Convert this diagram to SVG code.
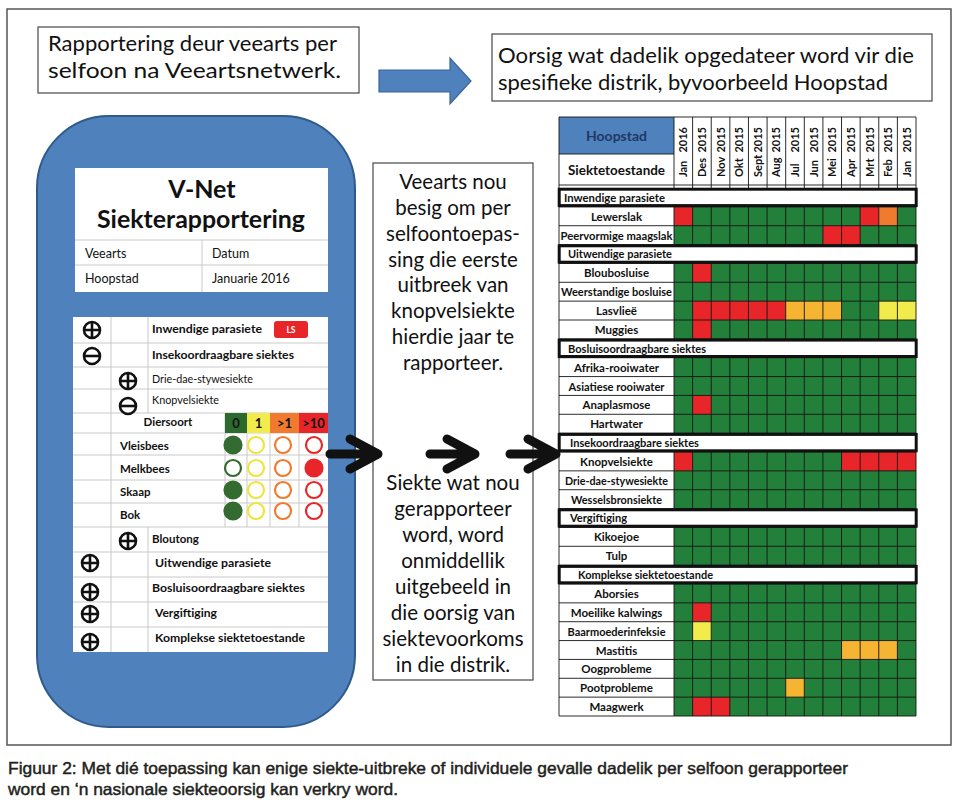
<svg xmlns="http://www.w3.org/2000/svg" width="960" height="810" viewBox="0 0 960 810">
<style>
text{font-family:Lato,"Open Sans","Liberation Sans",sans-serif;fill:#111}
.box{fill:#fff;stroke:#555;stroke-width:1.3}
.big{font-size:22px}
.mid{font-size:20.5px;text-anchor:middle}
.b{font-weight:bold}
.ph{font-size:12.5px}
.tb{font-size:11.5px;font-weight:bold}
.gl{font-size:11.5px;font-weight:bold;text-anchor:middle}
.sl{font-size:12px;font-weight:bold}
.mo{font-size:11px;font-weight:bold}
.ic{fill:none;stroke:#111;stroke-width:2.6}
.tl{stroke:#c9c9c9;stroke-width:1;fill:none}
.gr{stroke:#141414;stroke-width:0.9;fill:none}
.sec{fill:#fff;stroke:#111;stroke-width:3}
.R{fill:#e8262a}.A{fill:#f5b431}.Y{fill:#f1ec4b}.O{fill:#f07a2e}.G{fill:#23803a}
.ba{stroke:#111;stroke-width:9;fill:none;stroke-linecap:round;stroke-linejoin:round}
.cap{font-family:"Liberation Sans",Arial,sans-serif;font-size:16.5px;fill:#231f20;stroke:#231f20;stroke-width:0.45}
</style>
<rect width="960" height="810" fill="#fff"/>
<rect x="7" y="9" width="944" height="736" fill="none" stroke="#555" stroke-width="1.5"/>

<g id="intro">
<rect class="box" x="38" y="27" width="321" height="66"/>
<text class="big" x="48" y="51" textLength="289" lengthAdjust="spacingAndGlyphs">Rapportering deur veearts per</text>
<text class="big" x="48" y="78" textLength="293" lengthAdjust="spacingAndGlyphs">selfoon na Veeartsnetwerk.</text>
</g>

<g id="blue-arrow">
<polygon points="379,70 450,70 450,58 471,81 450,104 450,92 379,92" fill="#4f81bd" stroke="#3a6598" stroke-width="1.2"/>
</g>

<g id="overview-title">
<rect class="box" x="492" y="34" width="440" height="67"/>
<text class="big" x="498" y="63" textLength="416" lengthAdjust="spacingAndGlyphs">Oorsig wat dadelik opgedateer word vir die</text>
<text class="big" x="498" y="90" textLength="390" lengthAdjust="spacingAndGlyphs">spesifieke distrik, byvoorbeeld Hoopstad</text>
</g>

<g id="phone">
<rect x="37" y="116" width="318" height="611" rx="72" ry="72" fill="#4f81bd" stroke="#2f5a8c" stroke-width="2"/>
<rect x="75" y="168" width="253" height="124" fill="#fff"/>
<path class="tl" d="M75 240H328M75 265H328M202 240V292"/>
<text class="b" x="202" y="198" text-anchor="middle" font-size="25">V-Net</text>
<text class="b" x="201" y="228" text-anchor="middle" font-size="25" textLength="208" lengthAdjust="spacingAndGlyphs">Siekterapportering</text>
<text class="ph" x="85" y="258">Veearts</text>
<text class="ph" x="212" y="258">Datum</text>
<text class="ph" x="85" y="283">Hoopstad</text>
<text class="ph" x="212" y="283">Januarie 2016</text>

<rect x="73" y="317" width="255" height="335" fill="#fff"/>
<path class="tl" d="M73 343H328M73 367H328M73 389H328M73 413H328M73 433H328M73 455H328M73 480H328M73 503H328M73 527H328M73 552H328M73 577H328M73 602H328M73 627H328M111 317V652M148 317V413M148 527V652M225 413V527M247 433V527M270 433V527M299 433V527"/>
<rect x="225" y="413" width="22" height="20" fill="#2d6a2e"/>
<rect x="247" y="413" width="23" height="20" fill="#f1ec4b"/>
<rect x="270" y="413" width="29" height="20" fill="#f07a2e"/>
<rect x="299" y="413" width="29" height="20" fill="#e8262a"/>
<text class="b" x="236" y="428" text-anchor="middle" font-size="13">0</text>
<text class="b" x="258.5" y="428" text-anchor="middle" font-size="13">1</text>
<text class="b" x="284.5" y="428" text-anchor="middle" font-size="13">&gt;1</text>
<text class="b" x="313.5" y="428" text-anchor="middle" font-size="13">&gt;10</text>

<rect x="274" y="321" width="34" height="17" rx="3" fill="#e8262a"/>
<text x="291" y="333" text-anchor="middle" font-size="8.5" font-weight="bold" style="fill:#fff">LS</text>

<text class="tb" x="152" y="333" textLength="110" lengthAdjust="spacingAndGlyphs">Inwendige parasiete</text>
<text class="tb" x="152" y="359" textLength="142" lengthAdjust="spacingAndGlyphs">Insekoordraagbare siektes</text>
<text x="152" y="383" font-size="11" textLength="101" lengthAdjust="spacingAndGlyphs">Drie-dae-stywesiekte</text>
<text x="152" y="404" font-size="11" textLength="67" lengthAdjust="spacingAndGlyphs">Knopvelsiekte</text>
<text class="tb" x="168" y="426" text-anchor="middle" font-size="12.5">Diersoort</text>
<text class="tb" x="120" y="450" font-size="11">Vleisbees</text>
<text class="tb" x="120" y="473" font-size="11">Melkbees</text>
<text class="tb" x="120" y="496" font-size="11">Skaap</text>
<text class="tb" x="120" y="519" font-size="11">Bok</text>
<text class="tb" x="152" y="543" font-size="10.5">Bloutong</text>
<text class="tb" x="155" y="567" textLength="116" lengthAdjust="spacingAndGlyphs">Uitwendige parasiete</text>
<text class="tb" x="152" y="592" textLength="153" lengthAdjust="spacingAndGlyphs">Bosluisoordraagbare siektes</text>
<text class="tb" x="155" y="617" textLength="62" lengthAdjust="spacingAndGlyphs">Vergiftiging</text>
<text class="tb" x="155" y="642" textLength="150" lengthAdjust="spacingAndGlyphs">Komplekse siektetoestande</text>

<g class="ic">
<circle cx="92" cy="330" r="8"/><path d="M84 330H100M92 322V338"/>
<circle cx="92" cy="356" r="8"/><path d="M84 356H100"/>
<circle cx="128" cy="381" r="8"/><path d="M120 381H136M128 373V389"/>
<circle cx="128" cy="406" r="8"/><path d="M120 406H136"/>
<circle cx="128" cy="541" r="8"/><path d="M120 541H136M128 533V549"/>
<circle cx="90" cy="563" r="8"/><path d="M82 563H98M90 555V571"/>
<circle cx="90" cy="592" r="8"/><path d="M82 592H98M90 584V600"/>
<circle cx="90" cy="614" r="8"/><path d="M82 614H98M90 606V622"/>
<circle cx="90" cy="642" r="8"/><path d="M82 642H98M90 634V650"/>
</g>

<g stroke-width="2.2">
<circle cx="233" cy="445" r="8.5" fill="#336b31" stroke="#336b31"/>
<circle cx="256" cy="445" r="8" fill="none" stroke="#eee43c"/>
<circle cx="283" cy="445" r="8" fill="none" stroke="#f07a2e"/>
<circle cx="314" cy="445" r="8" fill="none" stroke="#e8262a"/>
<circle cx="233" cy="468" r="8" fill="none" stroke="#336b31"/>
<circle cx="256" cy="468" r="8" fill="none" stroke="#eee43c"/>
<circle cx="283" cy="468" r="8" fill="none" stroke="#f07a2e"/>
<circle cx="314" cy="468" r="8.5" fill="#e8262a" stroke="#e8262a"/>
<circle cx="233" cy="490" r="8.5" fill="#336b31" stroke="#336b31"/>
<circle cx="256" cy="490" r="8" fill="none" stroke="#eee43c"/>
<circle cx="283" cy="490" r="8" fill="none" stroke="#f07a2e"/>
<circle cx="314" cy="490" r="8" fill="none" stroke="#e8262a"/>
<circle cx="233" cy="511" r="8.5" fill="#336b31" stroke="#336b31"/>
<circle cx="256" cy="511" r="8" fill="none" stroke="#eee43c"/>
<circle cx="283" cy="511" r="8" fill="none" stroke="#f07a2e"/>
<circle cx="314" cy="511" r="8" fill="none" stroke="#e8262a"/>
</g>
</g>

<g id="explanation">
<rect class="box" x="373" y="163" width="160" height="517"/>
<text class="mid" x="453" y="189">Veearts nou</text>
<text class="mid" x="453" y="215">besig om per</text>
<text class="mid" x="453" y="241">selfoontoepas-</text>
<text class="mid" x="453" y="267">sing die eerste</text>
<text class="mid" x="453" y="292">uitbreek van</text>
<text class="mid" x="453" y="318">knopvelsiekte</text>
<text class="mid" x="453" y="344">hierdie jaar te</text>
<text class="mid" x="453" y="370">rapporteer.</text>
<text class="mid" x="453" y="490">Siekte wat nou</text>
<text class="mid" x="453" y="516">gerapporteer</text>
<text class="mid" x="453" y="542">word, word</text>
<text class="mid" x="453" y="568">onmiddellik</text>
<text class="mid" x="453" y="594">uitgebeeld in</text>
<text class="mid" x="453" y="620">die oorsig van</text>
<text class="mid" x="453" y="646">siektevoorkoms</text>
<text class="mid" x="453" y="672">in die distrik.</text>
</g>

<g id="overview-grid">
<rect x="559" y="117" width="115" height="37" fill="#4f81bd"/>
<rect x="559" y="154" width="115" height="31" fill="#fff"/>
<rect x="559" y="188" width="115" height="528" fill="#fff"/>
<rect x="674" y="188" width="242" height="528" class="G"/>
<text class="b" x="616.5" y="141" text-anchor="middle" font-size="14" style="fill:#1f3864">Hoopstad</text>
<text class="b" x="616.5" y="175" text-anchor="middle" font-size="14" textLength="97" lengthAdjust="spacingAndGlyphs">Siektetoestande</text>

<g class="mo">
<text transform="translate(687.3,177) rotate(-90)">Jan</text><text transform="translate(687.3,127) rotate(-90)" text-anchor="end">2016</text>
<text transform="translate(705.9,177) rotate(-90)">Des</text><text transform="translate(705.9,127) rotate(-90)" text-anchor="end">2015</text>
<text transform="translate(724.5,177) rotate(-90)">Nov</text><text transform="translate(724.5,127) rotate(-90)" text-anchor="end">2015</text>
<text transform="translate(743.1,177) rotate(-90)">Okt</text><text transform="translate(743.1,127) rotate(-90)" text-anchor="end">2015</text>
<text transform="translate(761.8,177) rotate(-90)">Sept</text><text transform="translate(761.8,127) rotate(-90)" text-anchor="end">2015</text>
<text transform="translate(780.4,177) rotate(-90)">Aug</text><text transform="translate(780.4,127) rotate(-90)" text-anchor="end">2015</text>
<text transform="translate(799,177) rotate(-90)">Jul</text><text transform="translate(799,127) rotate(-90)" text-anchor="end">2015</text>
<text transform="translate(817.6,177) rotate(-90)">Jun</text><text transform="translate(817.6,127) rotate(-90)" text-anchor="end">2015</text>
<text transform="translate(836.2,177) rotate(-90)">Mei</text><text transform="translate(836.2,127) rotate(-90)" text-anchor="end">2015</text>
<text transform="translate(854.8,177) rotate(-90)">Apr</text><text transform="translate(854.8,127) rotate(-90)" text-anchor="end">2015</text>
<text transform="translate(873.5,177) rotate(-90)">Mrt</text><text transform="translate(873.5,127) rotate(-90)" text-anchor="end">2015</text>
<text transform="translate(892.1,177) rotate(-90)">Feb</text><text transform="translate(892.1,127) rotate(-90)" text-anchor="end">2015</text>
<text transform="translate(910.7,177) rotate(-90)">Jan</text><text transform="translate(910.7,127) rotate(-90)" text-anchor="end">2015</text>
</g>

<g id="cells">
<rect class="R" x="674" y="206.86" width="18.7" height="18.9"/>
<rect class="R" x="860.15" y="206.86" width="18.7" height="18.9"/>
<rect class="O" x="878.77" y="206.86" width="18.7" height="18.9"/>
<rect class="R" x="822.92" y="225.71" width="37.3" height="18.9"/>
<rect class="R" x="692.62" y="263.43" width="18.7" height="18.9"/>
<rect class="R" x="692.62" y="301.14" width="93.1" height="18.9"/>
<rect class="A" x="785.69" y="301.14" width="55.9" height="18.9"/>
<rect class="Y" x="878.77" y="301.14" width="37.3" height="18.9"/>
<rect class="R" x="692.62" y="320" width="18.7" height="18.9"/>
<rect class="R" x="692.62" y="395.43" width="18.7" height="18.9"/>
<rect class="R" x="674" y="452" width="18.7" height="18.9"/>
<rect class="R" x="841.54" y="452" width="74.5" height="18.9"/>
<rect class="R" x="692.62" y="602.86" width="18.7" height="18.9"/>
<rect class="Y" x="692.62" y="621.71" width="18.7" height="18.9"/>
<rect class="A" x="841.54" y="640.57" width="55.9" height="18.9"/>
<rect class="A" x="785.69" y="678.29" width="18.7" height="18.9"/>
<rect class="R" x="692.62" y="697.14" width="37.3" height="18.9"/>
</g>

<path class="gr" d="M559 117H916M559 154H674M559 185H916M559 117V716M674 117V716M692.62 117V716M711.23 117V716M729.85 117V716M748.46 117V716M767.08 117V716M785.69 117V716M804.31 117V716M822.92 117V716M841.54 117V716M860.15 117V716M878.77 117V716M897.38 117V716M916 117V716M559 206.86H916M559 225.71H916M559 244.57H916M559 263.43H916M559 282.29H916M559 301.14H916M559 320H916M559 338.86H916M559 357.71H916M559 376.57H916M559 395.43H916M559 414.29H916M559 433.14H916M559 452H916M559 470.86H916M559 489.71H916M559 508.57H916M559 527.43H916M559 546.29H916M559 565.14H916M559 584H916M559 602.86H916M559 621.71H916M559 640.57H916M559 659.43H916M559 678.29H916M559 697.14H916M559 716H916"/>

<rect class="sec" x="559.2" y="189.2" width="357" height="16.4"/>
<rect class="sec" x="559.2" y="245.8" width="357" height="16.4"/>
<rect class="sec" x="559.2" y="340.1" width="357" height="16.4"/>
<rect class="sec" x="559.2" y="434.4" width="357" height="16.4"/>
<rect class="sec" x="559.2" y="509.8" width="357" height="16.4"/>
<rect class="sec" x="559.2" y="566.4" width="357" height="16.4"/>
<text class="sl" x="564" y="201.8" textLength="101" lengthAdjust="spacingAndGlyphs">Inwendige parasiete</text>
<text class="sl" x="568" y="258.4" textLength="104" lengthAdjust="spacingAndGlyphs">Uitwendige parasiete</text>
<text class="sl" x="568" y="352.7" textLength="138" lengthAdjust="spacingAndGlyphs">Bosluisoordraagbare siektes</text>
<text class="sl" x="570" y="447" textLength="129" lengthAdjust="spacingAndGlyphs">Insekoordraagbare siektes</text>
<text class="sl" x="570" y="522.4" textLength="57" lengthAdjust="spacingAndGlyphs">Vergiftiging</text>
<text class="sl" x="578" y="579" textLength="135" lengthAdjust="spacingAndGlyphs">Komplekse siektetoestande</text>

<g class="gl">
<text x="616.5" y="220.8">Lewerslak</text>
<text x="616.5" y="239.7" textLength="112" lengthAdjust="spacingAndGlyphs">Peervormige maagslak</text>
<text x="616.5" y="277.4">Bloubosluise</text>
<text x="616.5" y="296.2" textLength="111" lengthAdjust="spacingAndGlyphs">Weerstandige bosluise</text>
<text x="616.5" y="315.1">Lasvlieë</text>
<text x="616.5" y="334">Muggies</text>
<text x="616.5" y="371.7">Afrika-rooiwater</text>
<text x="616.5" y="390.5" textLength="96" lengthAdjust="spacingAndGlyphs">Asiatiese rooiwater</text>
<text x="616.5" y="409.4">Anaplasmose</text>
<text x="616.5" y="428.2">Hartwater</text>
<text x="616.5" y="466">Knopvelsiekte</text>
<text x="616.5" y="484.8" textLength="103" lengthAdjust="spacingAndGlyphs">Drie-dae-stywesiekte</text>
<text x="616.5" y="503.7" textLength="91" lengthAdjust="spacingAndGlyphs">Wesselsbronsiekte</text>
<text x="616.5" y="541.4">Kikoejoe</text>
<text x="616.5" y="560.2">Tulp</text>
<text x="616.5" y="598">Aborsies</text>
<text x="616.5" y="616.8">Moeilike kalwings</text>
<text x="616.5" y="635.7" textLength="98" lengthAdjust="spacingAndGlyphs">Baarmoederinfeksie</text>
<text x="616.5" y="654.5">Mastitis</text>
<text x="616.5" y="673.4">Oogprobleme</text>
<text x="616.5" y="692.2">Pootprobleme</text>
<text x="616.5" y="711.1">Maagwerk</text>
</g>
</g>

<g id="connectors">
<path class="ba" d="M330 454H376M350 439L378 454L350 469"/>
<path class="ba" d="M430 454H474M447 439L475 454L447 469"/>
<path class="ba" d="M510 454H554M528 439L556 454L528 469"/>
</g>

<g id="caption">
<text class="cap" x="8" y="774" textLength="840" lengthAdjust="spacingAndGlyphs">Figuur 2: Met dié toepassing kan enige siekte-uitbreke of individuele gevalle dadelik per selfoon gerapporteer</text>
<text class="cap" x="8" y="795" textLength="390" lengthAdjust="spacingAndGlyphs">word en ‘n nasionale siekteoorsig kan verkry word.</text>
</g>
</svg>
